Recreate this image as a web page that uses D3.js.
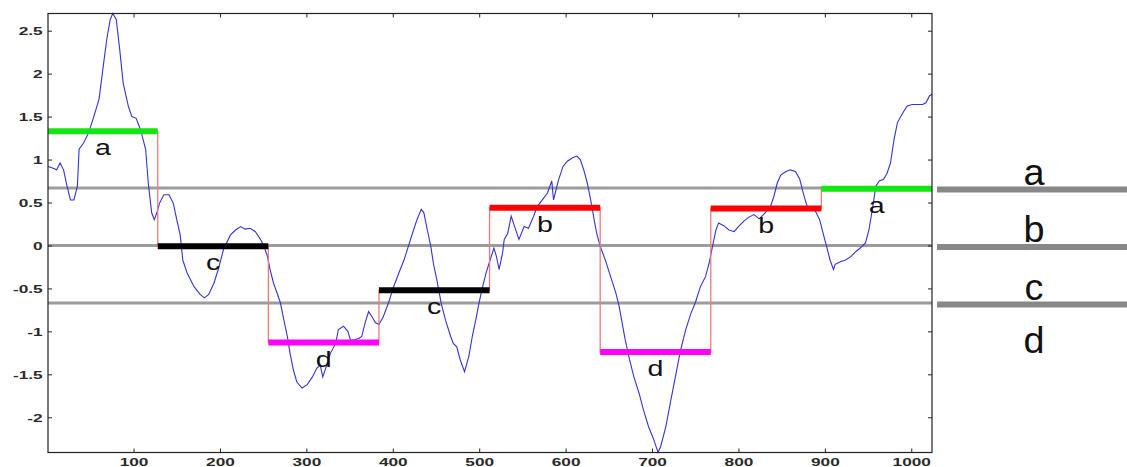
<!DOCTYPE html>
<html><head><meta charset="utf-8">
<script src="https://cdn.jsdelivr.net/npm/d3@7"></script>
<style>html,body{margin:0;padding:0;background:#fff;} svg{display:block;}</style>
</head><body>
<script>
// ---- data ----
const seriesX = [1,7,11,15,19,23,27,31,35,37,42,48,54,60,65,69,73,76,80,84,88,94,98,103,108,114,117,121,124,127,130,135,141,146,150,154,157,162,170,177,182,187,193,198,204,212,218,224,229,235,241,247,251,255,258,262,266,270,274,278,281,285,289,295,301,307,312,316,319,323,328,334,337,343,348,351,355,361,364,368,372,376,380,384,389,395,401,407,413,418,424,428,433,436,440,444,447,451,456,461,467,470,474,478,483,488,492,496,499,503,508,512,517,520,523,527,529,533,537,541,546,552,557,563,567,573,579,584,586,592,597,602,608,613,617,621,625,629,633,636,640,646,652,658,662,665,669,674,679,685,690,696,702,707,710,716,721,727,733,739,745,750,756,762,766,770,774,777,783,789,795,800,806,812,818,824,829,837,841,845,849,855,860,866,871,875,879,883,889,894,898,902,906,910,912,918,924,930,936,941,947,951,955,959,963,968,972,976,980,984,990,995,1001,1007,1013,1017,1021,1024];
const seriesY = [0.92,0.90,0.88,0.96,0.88,0.69,0.53,0.53,0.69,1.12,1.19,1.31,1.50,1.70,2.09,2.40,2.63,2.70,2.63,2.28,1.89,1.62,1.50,1.48,1.35,1.12,0.73,0.38,0.30,0.38,0.49,0.59,0.59,0.49,0.30,0.12,-0.17,-0.32,-0.48,-0.57,-0.61,-0.57,-0.44,-0.28,-0.05,0.12,0.18,0.22,0.19,0.20,0.16,0.07,-0.01,-0.13,-0.28,-0.44,-0.55,-0.67,-0.87,-1.06,-1.25,-1.45,-1.59,-1.66,-1.62,-1.53,-1.43,-1.39,-1.53,-1.41,-1.25,-1.14,-0.98,-0.94,-1.00,-1.10,-1.10,-1.08,-1.06,-0.90,-0.77,-0.83,-0.90,-0.92,-0.83,-0.67,-0.48,-0.32,-0.17,-0.01,0.18,0.30,0.42,0.38,0.18,-0.01,-0.21,-0.40,-0.67,-0.87,-1.06,-1.14,-1.18,-1.33,-1.47,-1.29,-1.06,-0.87,-0.71,-0.52,-0.32,-0.19,-0.03,-0.13,-0.28,-0.09,0.07,0.14,0.34,0.22,0.07,0.22,0.20,0.34,0.45,0.53,0.61,0.75,0.53,0.77,0.92,0.98,1.02,1.04,1.00,0.88,0.73,0.53,0.30,0.14,-0.01,-0.17,-0.36,-0.55,-0.71,-0.88,-1.10,-1.33,-1.53,-1.72,-1.91,-2.11,-2.26,-2.41,-2.34,-2.11,-1.84,-1.53,-1.22,-0.98,-0.79,-0.67,-0.48,-0.36,-0.21,-0.01,0.18,0.26,0.23,0.18,0.16,0.22,0.28,0.33,0.36,0.31,0.36,0.45,0.57,0.73,0.82,0.86,0.88,0.86,0.77,0.61,0.47,0.42,0.40,0.30,0.14,-0.01,-0.17,-0.28,-0.22,-0.19,-0.17,-0.13,-0.07,-0.03,0.03,0.18,0.42,0.69,0.75,0.77,0.84,0.96,1.23,1.43,1.54,1.62,1.64,1.64,1.64,1.66,1.74,1.76];

const segBounds = [1,128,256,384,512,640,768,896,1024];
const paaValues = [1.33,-0.01,-1.13,-0.52,0.44,-1.24,0.43,0.66];
const paaLetters = ['a','c','d','c','b','d','b','a'];
const breakpoints = [0.67,0,-0.67];
const alphabet = ['a','b','c','d'];
const letterColors = ['#14e614','#ff0000','#000000','#ff00ff'];
const xTicks = [100,200,300,400,500,600,700,800,900,1000];
const xTickLabels = ['100','200','300','400','500','600','700','800','900','1000'];
const yTicks = [-2,-1.5,-1,-0.5,0,0.5,1,1.5,2,2.5];
const yTickLabels = ['-2','-1.5','-1','-0.5','0','0.5','1','1.5','2','2.5'];

// ---- layout ----
const W = 1127, H = 467;
const P = {left:48, right:932, top:13.5, bottom:452.5};
const FONT = "'Liberation Sans', Arial, Helvetica, sans-serif";

const svg = d3.select('body').append('svg').attr('width',W).attr('height',H);
svg.append('rect').attr('width',W).attr('height',H).attr('fill','#fff');

const x = d3.scaleLinear().domain(d3.extent(seriesX)).range([P.left,P.right]);
const y = d3.scaleLinear().domain(d3.extent(seriesY)).range([P.bottom,P.top]);

// breakpoint lines inside plot
svg.append('g').selectAll('line').data(breakpoints).join('line')
  .attr('x1',P.left).attr('x2',P.right)
  .attr('y1',d=>y(d)).attr('y2',d=>y(d))
  .attr('stroke','#9c9c9c').attr('stroke-width',3);

// breakpoint lines on the right
svg.append('g').selectAll('line').data(breakpoints).join('line')
  .attr('x1',937).attr('x2',W)
  .attr('y1',d=>y(d)+1.5).attr('y2',d=>y(d)+1.5)
  .attr('stroke','#888').attr('stroke-width',6);

// right letters
const rightBase = alphabet.map((l,i)=> i<breakpoints.length ? y(breakpoints[i])-3 : y(breakpoints[breakpoints.length-1])+50);
svg.append('g').selectAll('text').data(alphabet).join('text')
  .attr('transform',(d,i)=>`translate(1034,${rightBase[i]}) scale(1.05,1)`)
  .attr('text-anchor','middle').attr('font-family',FONT).attr('font-size',36)
  .attr('fill','#111').text(d=>d);

// time series
const pts = seriesX.map((v,i)=>[v,seriesY[i]]);
svg.append('path').datum(pts)
  .attr('d', d3.line().x(d=>x(d[0])).y(d=>y(d[1])))
  .attr('fill','none').attr('stroke','#3434d4').attr('stroke-width',1.1);

// PAA stair line
const stairPts = segBounds.map((b,i)=>[b, paaValues[Math.min(i,paaValues.length-1)]]);
svg.append('path').datum(stairPts)
  .attr('d', d3.line().curve(d3.curveStepAfter).x(d=>x(d[0])).y(d=>y(d[1])))
  .attr('fill','none').attr('stroke','#f07a7a').attr('stroke-width',1.3);

// PAA bars
svg.append('g').selectAll('line').data(paaValues).join('line')
  .attr('x1',(d,i)=>x(segBounds[i])).attr('x2',(d,i)=>x(segBounds[i+1]))
  .attr('y1',d=>y(d)).attr('y2',d=>y(d))
  .attr('stroke',(d,i)=>letterColors[alphabet.indexOf(paaLetters[i])])
  .attr('stroke-width',6);

// bar letters
svg.append('g').selectAll('text').data(paaLetters).join('text')
  .attr('transform',(d,i)=>`translate(${x((segBounds[i]+segBounds[i+1])/2)},${y(paaValues[i])+24}) scale(1.3,1)`)
  .attr('text-anchor','middle').attr('font-family',FONT).attr('font-size',22)
  .attr('fill','#111').text(d=>d);

// axes
const axisColor = '#222';
function styleAxis(g){
  g.select('.domain').remove();
  g.selectAll('.tick line').attr('stroke',axisColor);
}
const gB = svg.append('g').attr('transform',`translate(0,${P.bottom})`)
  .call(d3.axisBottom(x).tickValues(xTicks).tickSizeInner(-4).tickSizeOuter(0)
        .tickFormat((d,i)=>xTickLabels[i]));
styleAxis(gB);
gB.selectAll('.tick text').attr('y',null).attr('dy',null)
  .attr('transform','translate(0,13.3) scale(1.5,1)')
  .attr('font-family',FONT).attr('font-size',11.5).attr('font-weight','bold').attr('fill','#2a2a2a');

const gL = svg.append('g').attr('transform',`translate(${P.left},0)`)
  .call(d3.axisLeft(y).tickValues(yTicks).tickSizeInner(-4).tickSizeOuter(0)
        .tickFormat((d,i)=>yTickLabels[i]));
styleAxis(gL);
gL.selectAll('.tick text').attr('x',null).attr('dy',null)
  .attr('transform','translate(-5.3,4) scale(1.5,1)')
  .attr('font-family',FONT).attr('font-size',11.5).attr('font-weight','bold').attr('fill','#2a2a2a');

const gT = svg.append('g').attr('transform',`translate(0,${P.top})`)
  .call(d3.axisTop(x).tickValues(xTicks).tickSizeInner(-4).tickSizeOuter(0).tickFormat(''));
styleAxis(gT);
const gR = svg.append('g').attr('transform',`translate(${P.right},0)`)
  .call(d3.axisRight(y).tickValues(yTicks).tickSizeInner(-4).tickSizeOuter(0).tickFormat(''));
styleAxis(gR);

// frame
svg.append('rect').attr('x',P.left).attr('y',P.top)
  .attr('width',P.right-P.left).attr('height',P.bottom-P.top)
  .attr('fill','none').attr('stroke',axisColor).attr('stroke-width',1.2);
</script>
</body></html>
